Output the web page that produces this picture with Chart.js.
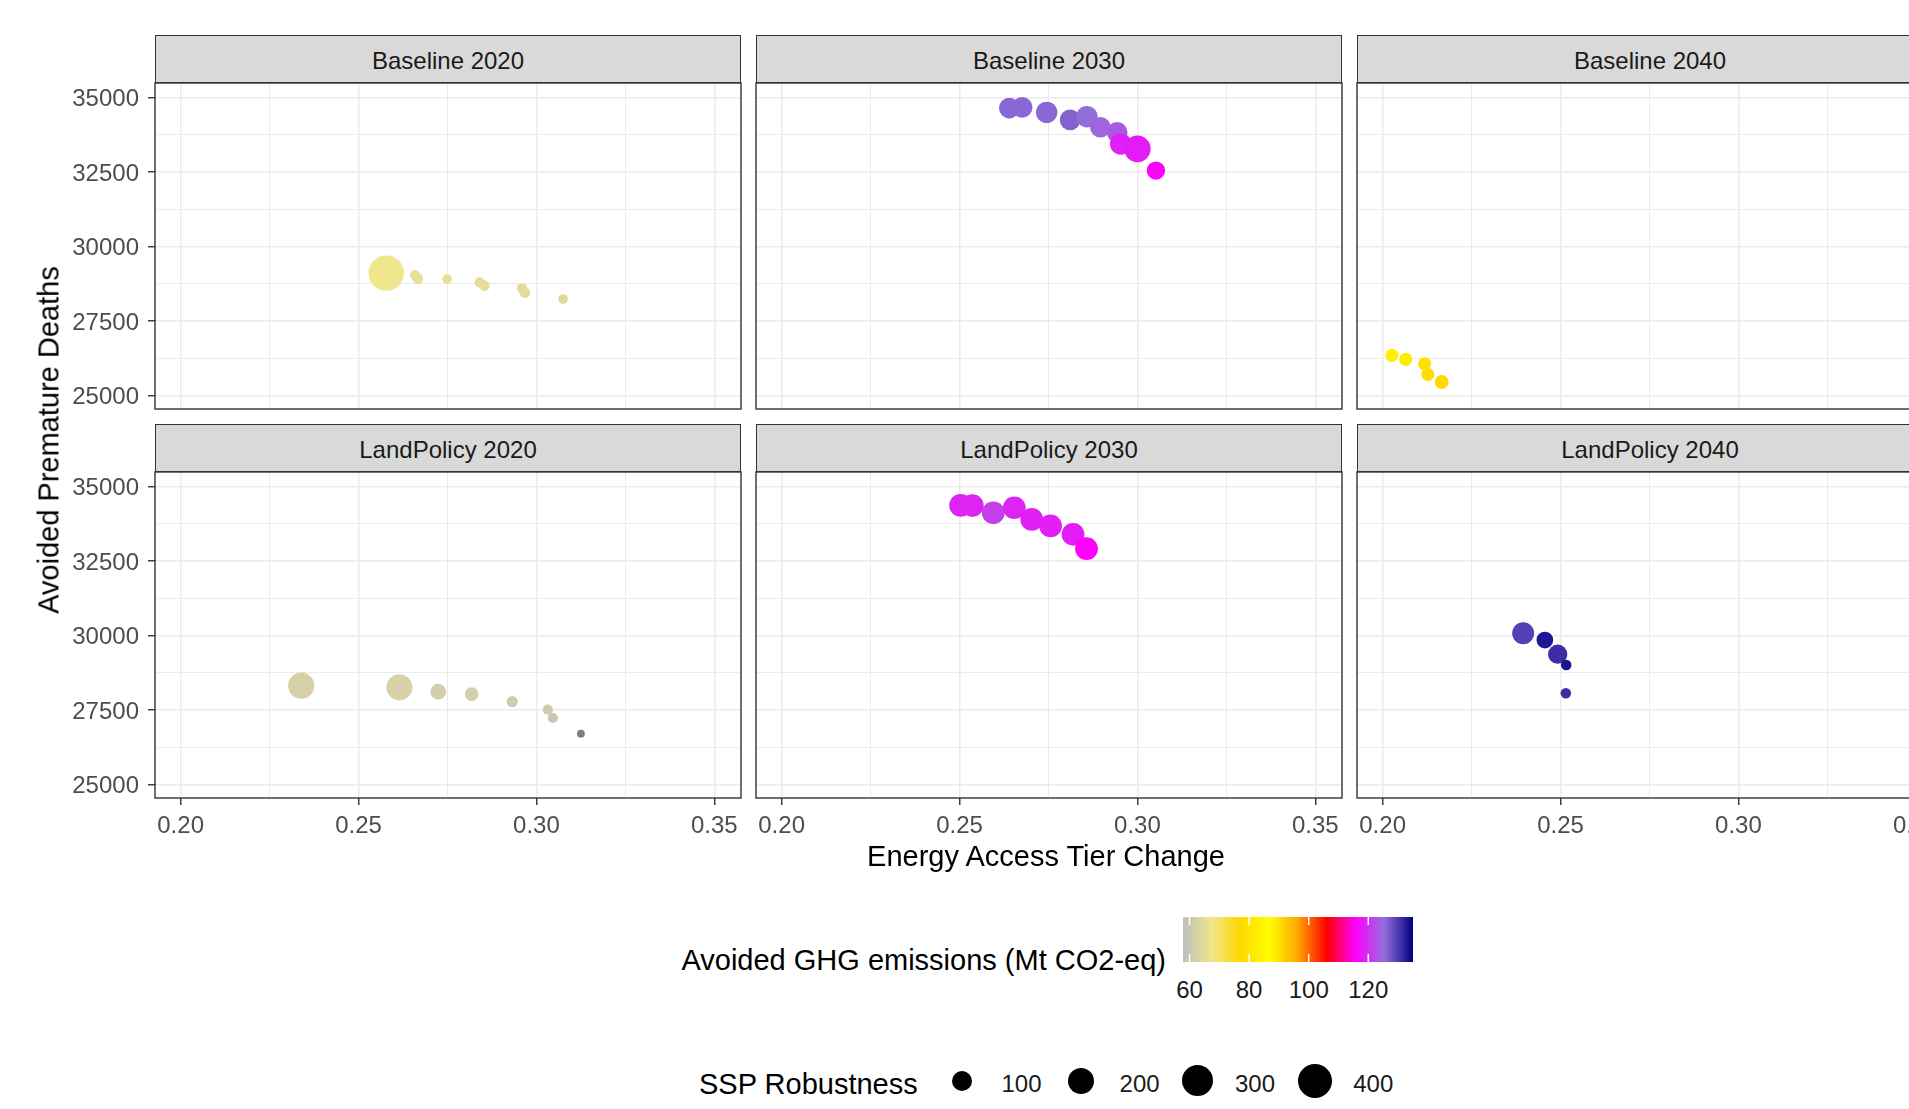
<!DOCTYPE html>
<html>
<head>
<meta charset="utf-8">
<script src="https://cdn.jsdelivr.net/npm/chart.js@4.4.0/dist/chart.umd.min.js"></script>
<style>
  html, body { margin: 0; padding: 0; background: #fff; overflow: hidden; }
  body { width: 1909px; height: 1109px; position: relative; font-family: "Liberation Sans", Arial, sans-serif; }
  .strip { position: absolute; box-sizing: border-box; background: #d9d9d9; border: 1.4px solid #333; color: #1a1a1a; font-size: 24px; display: flex; align-items: center; justify-content: center; padding-top: 4px; }
  .title { position: absolute; color: #000; font-size: 29px; white-space: nowrap; }
  .lab { position: absolute; color: #1a1a1a; font-size: 24px; white-space: nowrap; transform: translate(-50%, -50%); }
</style>
</head>
<body>
<script>
// values
const panels = ["Baseline 2020", "Baseline 2030", "Baseline 2040", "LandPolicy 2020", "LandPolicy 2030", "LandPolicy 2040"];

const baseline2020Tier = [0.2578, 0.2659, 0.2667, 0.2749, 0.2841, 0.2854, 0.2960, 0.2968, 0.3075];
const baseline2020Deaths = [29110, 29040, 28920, 28910, 28800, 28690, 28600, 28450, 28240];
const baseline2020Ghg = [67.5, 66, 66, 66, 65.5, 65.5, 65, 65, 64];
const baseline2020Robust = [420, 14, 14, 12, 14, 14, 14, 14, 12];

const baseline2030Tier = [0.2640, 0.2676, 0.2745, 0.2811, 0.2858, 0.2896, 0.2943, 0.2953, 0.3000, 0.3052];
const baseline2030Deaths = [34650, 34670, 34505, 34250, 34360, 34005, 33835, 33445, 33280, 32550];
const baseline2030Ghg = [126, 126, 126, 126.5, 125.5, 124.5, 123.5, 118.5, 118, 115.5];
const baseline2030Robust = [100, 100, 110, 100, 110, 100, 100, 110, 200, 70];

const baseline2040Tier = [0.2026, 0.2065, 0.2118, 0.2127, 0.2166];
const baseline2040Deaths = [26350, 26215, 26070, 25710, 25455];
const baseline2040Ghg = [83, 82, 79, 78.5, 77.5];
const baseline2040Robust = [25, 25, 25, 25, 30];

const landPolicy2020Tier = [0.2339, 0.2615, 0.2724, 0.2818, 0.2932, 0.3032, 0.3046, 0.3125];
const landPolicy2020Deaths = [28320, 28263, 28117, 28039, 27782, 27514, 27235, 26710];
const landPolicy2020Ghg = [62.5, 62.5, 62, 62, 61.5, 61, 60, null];
const landPolicy2020Robust = [190, 190, 44, 29, 16, 13, 13, 10];

const landPolicy2030Tier = [0.2503, 0.2536, 0.2595, 0.2654, 0.2703, 0.2756, 0.2819, 0.2857];
const landPolicy2030Deaths = [34370, 34365, 34120, 34290, 33900, 33680, 33400, 32915];
const landPolicy2030Ghg = [118.8, 118.8, 121, 118.8, 118.5, 118.5, 118.2, 115.5];
const landPolicy2030Robust = [130, 130, 130, 130, 130, 130, 130, 130];

const landPolicy2040Tier = [0.2395, 0.2456, 0.2492, 0.2516, 0.2515];
const landPolicy2040Deaths = [30080, 29852, 29375, 29011, 28068];
const landPolicy2040Ghg = [129.4, 133, 131, 133.3, 131];
const landPolicy2040Robust = [118, 53, 81, 14, 14];

const xMajor = [0.20, 0.25, 0.30, 0.35];
const xMinor = [0.225, 0.275, 0.325];
const yMajor = [25000, 27500, 30000, 32500, 35000];
const yMinor = [26250, 28750, 31250, 33750];
const ghgTicks = [60, 80, 100, 120];
const sizeTicks = [100, 200, 300, 400];

// scales
const xRange = [0.1928, 0.3575];
const yRange = [24550, 35490];
const ghgColours = ["#bebebe", "#f0e68c", "#ffd700", "#ffff00", "#ffa500", "#ff0000", "#ff00ff", "#9370db", "#000080"];
const ghgLimits = [57.8, 135];
const naColour = "#7f7f7f";
const sizeLimits = [10, 420];

function hexToRgb(h) {
  return [1, 3, 5].map(i => parseInt(h.substr(i, 2), 16));
}
function ghgColour(v) {
  if (v == null) return naColour;
  let t = (v - ghgLimits[0]) / (ghgLimits[1] - ghgLimits[0]);
  t = Math.max(0, Math.min(1, t)) * (ghgColours.length - 1);
  const i = Math.min(Math.floor(t), ghgColours.length - 2);
  const f = t - i;
  const a = hexToRgb(ghgColours[i]), b = hexToRgb(ghgColours[i + 1]);
  const c = a.map((x, k) => Math.round(x + (b[k] - x) * f));
  return "rgb(" + c.join(",") + ")";
}
function pointRadius(v) {
  const t = Math.max(0, (v - sizeLimits[0]) / (sizeLimits[1] - sizeLimits[0]));
  return (7.8 + 27.6 * Math.sqrt(t)) / 2;
}

// layout
const plotLeft = [155, 756, 1357];
const panelW = 586;
const stripTop = [35, 424];
const stripH = 48;
const plotH = 326;
const yAxisW = 155;
const xAxisH = 50;
const M = 30;

Chart.defaults.font.family = "'Liberation Sans', Arial, sans-serif";

const panelBorder = {
  id: "panelBorder",
  afterDraw(chart) {
    const a = chart.chartArea, ctx = chart.ctx;
    ctx.save();
    ctx.strokeStyle = "#333333";
    ctx.lineWidth = 1.4;
    ctx.strokeRect(a.left, a.top, a.right - a.left, a.bottom - a.top);
    ctx.restore();
  }
};

function makePanel(i, tier, deaths, ghg, robust) {
  const col = i % 3, row = Math.floor(i / 3);
  const first = col === 0;
  const bottom = row === 1;
  const plotTop = stripTop[row] + stripH;

  const strip = document.createElement("div");
  strip.className = "strip";
  strip.style.left = plotLeft[col] + "px";
  strip.style.top = stripTop[row] + "px";
  strip.style.width = panelW + "px";
  strip.style.height = stripH + "px";
  strip.textContent = panels[i];
  document.body.appendChild(strip);

  const boxLeft = first ? 0 : plotLeft[col] - M;
  const boxTop = plotTop - M;
  const w = (first ? plotLeft[0] : M) + panelW + M;
  const h = M + plotH + (bottom ? xAxisH : M);
  const canvas = document.createElement("canvas");
  canvas.width = w;
  canvas.height = h;
  canvas.style.cssText = `position:absolute;left:${boxLeft}px;top:${boxTop}px;width:${w}px;height:${h}px`;
  document.body.appendChild(canvas);

  const isMajorX = ctx => ctx.tick && xMajor.includes(ctx.tick.value);
  const isMajorY = ctx => ctx.tick && yMajor.includes(ctx.tick.value);
  const noPad = s => { s.paddingTop = 0; s.paddingBottom = 0; s.paddingLeft = 0; s.paddingRight = 0; };

  new Chart(canvas, {
    type: "scatter",
    data: {
      datasets: [{
        data: tier.map((x, k) => ({ x: x, y: deaths[k] })),
        pointRadius: robust.map(pointRadius),
        pointHoverRadius: robust.map(pointRadius),
        pointBackgroundColor: ghg.map(ghgColour),
        pointBorderWidth: 0,
        pointBorderColor: "rgba(0,0,0,0)"
      }]
    },
    options: {
      responsive: false,
      animation: false,
      devicePixelRatio: 1,
      events: [],
      layout: {
        autoPadding: false,
        padding: { left: first ? 0 : M, top: M, right: M, bottom: bottom ? 0 : M }
      },
      plugins: { legend: { display: false }, tooltip: { enabled: false } },
      scales: {
        x: {
          type: "linear",
          min: xRange[0],
          max: xRange[1],
          afterBuildTicks: s => { s.ticks = xMajor.concat(xMinor).sort((a, b) => a - b).map(v => ({ value: v })); },
          afterFit: s => { s.height = bottom ? xAxisH : 0; noPad(s); },
          border: { display: false },
          grid: {
            color: "#ebebeb",
            lineWidth: ctx => isMajorX(ctx) ? 1.5 : 1.0,
            drawTicks: bottom,
            tickLength: 7,
            tickWidth: 1.4,
            tickColor: ctx => isMajorX(ctx) ? "#333333" : "rgba(0,0,0,0)"
          },
          ticks: {
            display: bottom,
            autoSkip: false,
            maxRotation: 0,
            padding: 7,
            color: "#4d4d4d",
            font: { size: 24 },
            callback: v => xMajor.includes(v) ? v.toFixed(2) : ""
          }
        },
        y: {
          type: "linear",
          min: yRange[0],
          max: yRange[1],
          afterBuildTicks: s => { s.ticks = yMajor.concat(yMinor).sort((a, b) => a - b).map(v => ({ value: v })); },
          afterFit: s => { s.width = first ? yAxisW : 0; noPad(s); },
          border: { display: false },
          grid: {
            color: "#ebebeb",
            lineWidth: ctx => isMajorY(ctx) ? 1.5 : 1.0,
            drawTicks: first,
            tickLength: 7,
            tickWidth: 1.4,
            tickColor: ctx => isMajorY(ctx) ? "#333333" : "rgba(0,0,0,0)"
          },
          ticks: {
            display: first,
            autoSkip: false,
            padding: 9,
            labelOffset: 2,
            color: "#4d4d4d",
            font: { size: 24 },
            callback: v => yMajor.includes(v) ? String(v) : ""
          }
        }
      }
    },
    plugins: [panelBorder]
  });
}

makePanel(0, baseline2020Tier, baseline2020Deaths, baseline2020Ghg, baseline2020Robust);
makePanel(1, baseline2030Tier, baseline2030Deaths, baseline2030Ghg, baseline2030Robust);
makePanel(2, baseline2040Tier, baseline2040Deaths, baseline2040Ghg, baseline2040Robust);
makePanel(3, landPolicy2020Tier, landPolicy2020Deaths, landPolicy2020Ghg, landPolicy2020Robust);
makePanel(4, landPolicy2030Tier, landPolicy2030Deaths, landPolicy2030Ghg, landPolicy2030Robust);
makePanel(5, landPolicy2040Tier, landPolicy2040Deaths, landPolicy2040Ghg, landPolicy2040Robust);

// axis titles
function addText(cls, text, left, top, transform) {
  const d = document.createElement("div");
  d.className = cls;
  d.textContent = text;
  d.style.left = left + "px";
  d.style.top = top + "px";
  if (transform) d.style.transform = transform;
  document.body.appendChild(d);
  return d;
}
addText("title", "Energy Access Tier Change", 1046, 856, "translate(-50%,-50%)");
addText("title", "Avoided Premature Deaths", 48.5, 439.5, "translate(-50%,-50%) rotate(-90deg)");

// colour legend
const bar = { left: 1183, top: 917, width: 230, height: 45 };
addText("title", "Avoided GHG emissions (Mt CO2-eq)", 1166, 960, "translate(-100%,-50%)");
const barCanvas = document.createElement("canvas");
barCanvas.width = bar.width;
barCanvas.height = bar.height;
barCanvas.style.cssText = `position:absolute;left:${bar.left}px;top:${bar.top}px`;
document.body.appendChild(barCanvas);
const bctx = barCanvas.getContext("2d");
for (let px = 0; px < bar.width; px++) {
  const v = ghgLimits[0] + (px + 0.5) / bar.width * (ghgLimits[1] - ghgLimits[0]);
  bctx.fillStyle = ghgColour(v);
  bctx.fillRect(px, 0, 1, bar.height);
}
bctx.strokeStyle = "#ffffff";
bctx.lineWidth = 1.5;
ghgTicks.forEach(t => {
  const px = (t - ghgLimits[0]) / (ghgLimits[1] - ghgLimits[0]) * bar.width;
  bctx.beginPath();
  bctx.moveTo(px, 0); bctx.lineTo(px, 8);
  bctx.moveTo(px, bar.height - 8); bctx.lineTo(px, bar.height);
  bctx.stroke();
  addText("lab", String(t), bar.left + px, 990);
});

// size legend
addText("title", "SSP Robustness", 699, 1083.6, "translate(0,-50%)");
const dotX = [962, 1081, 1198, 1315];
const labX = [1021.5, 1139.6, 1255, 1373.3];
sizeTicks.forEach((s, k) => {
  const r = pointRadius(s);
  const d = document.createElement("div");
  d.style.cssText = `position:absolute;left:${dotX[k] - r}px;top:${1081 - r}px;width:${2 * r}px;height:${2 * r}px;border-radius:50%;background:#000`;
  document.body.appendChild(d);
  addText("lab", String(s), labX[k], 1083.6);
});
</script>
</body>
</html>
